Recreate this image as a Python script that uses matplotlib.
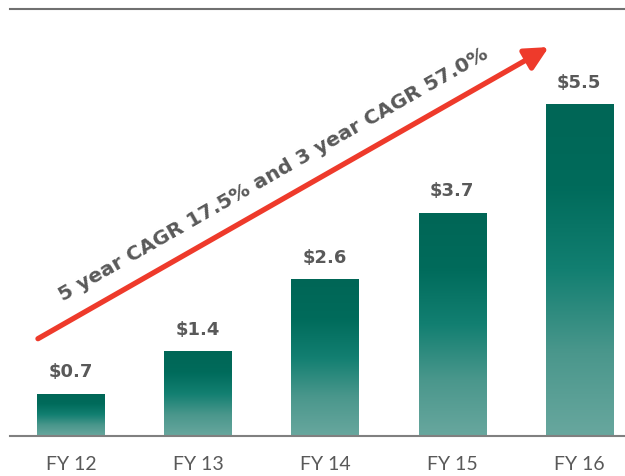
import numpy as np
import matplotlib.pyplot as plt
from matplotlib.colors import LinearSegmentedColormap

years = ['FY 12', 'FY 13', 'FY 14', 'FY 15', 'FY 16']
values = [0.7, 1.4, 2.6, 3.7, 5.5]
labels = ['$0.7', '$1.4', '$2.6', '$3.7', '$5.5']
cagr_text = '5 year CAGR 17.5% and 3 year CAGR 57.0%'

plt.rcParams['font.family'] = ['Lato', 'DejaVu Sans']

fig = plt.figure(figsize=(6.25, 4.77), dpi=100)
ax = fig.add_axes([0.016, 0.084, 0.984, 0.895])

cmap = LinearSegmentedColormap.from_list('teal', ['#68a79e', '#4a978c', '#127f71', '#006b5b', '#006656'])
grad = np.linspace(0, 1, 256).reshape(-1, 1)

x = np.arange(len(values))
w = 0.53
bars = ax.bar(x, values, width=w, color='none', edgecolor='none')
for b in bars:
    bx, by = b.get_x(), b.get_y()
    im = ax.imshow(grad, cmap=cmap, origin='lower', aspect='auto',
                   extent=[bx, bx + b.get_width(), by, by + b.get_height()], zorder=2)
    im.set_clip_path(b)

for xi, v, lab in zip(x, values, labels):
    ax.text(xi, v + 0.22, lab, ha='center', va='bottom', fontsize=13,
            fontweight='bold', color='#595959', family='DejaVu Sans')

ax.set_xlim(-0.48, 4.36)
ax.set_ylim(0, 7.07)
ax.set_xticks(x)
ax.set_xticklabels(years, fontsize=14, color='#595959')
ax.tick_params(axis='x', length=0, pad=14)
ax.set_yticks([])
for s in ['left', 'right']:
    ax.spines[s].set_visible(False)
ax.spines['bottom'].set_color('#808080')
ax.spines['bottom'].set_linewidth(1.5)
ax.spines['top'].set_color('#707070')
ax.spines['top'].set_linewidth(1.5)

# growth arrow
ax.annotate('', xy=(3.76, 6.44), xytext=(-0.26, 1.61),
            arrowprops=dict(arrowstyle='-|>,head_length=1.4,head_width=0.7',
                            color='#ee3a2b', lw=3.8, shrinkA=0, shrinkB=0),
            zorder=3)
ax.text(1.59, 4.35, cagr_text, rotation=29.8, rotation_mode='anchor',
        ha='center', va='center', fontsize=14.5, fontweight='bold', color='#595959',
        family='DejaVu Sans')

fig.savefig('out.png', dpi=100)
